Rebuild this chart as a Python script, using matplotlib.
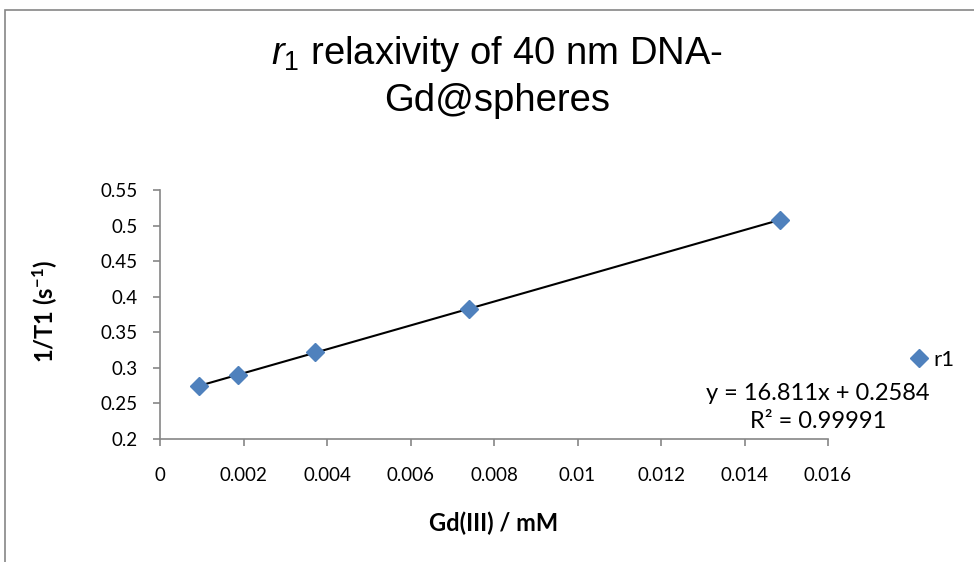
import numpy as np
import matplotlib
matplotlib.use("Agg")
import matplotlib.pyplot as plt
from matplotlib.patches import Rectangle

# data
gd_mM = [0.00093, 0.00186, 0.00372, 0.00741, 0.01485]
inv_t1 = [0.2745, 0.2895, 0.3225, 0.3830, 0.5080]
series_name = "r1"
eq_text = "y = 16.811x + 0.2584"
r2_text = "R² = 0.99991"
x_ticks = [0, 0.002, 0.004, 0.006, 0.008, 0.01, 0.012, 0.014, 0.016]
x_tick_labels = ["0", "0.002", "0.004", "0.006", "0.008", "0.01", "0.012", "0.014", "0.016"]
y_ticks = [0.2, 0.25, 0.3, 0.35, 0.4, 0.45, 0.5, 0.55]
y_tick_labels = ["0.2", "0.25", "0.3", "0.35", "0.4", "0.45", "0.5", "0.55"]

plt.rcParams['mathtext.fontset'] = 'custom'
plt.rcParams['mathtext.rm'] = 'Liberation Sans'
plt.rcParams['mathtext.it'] = 'Liberation Sans:italic'
plt.rcParams['mathtext.bf'] = 'Lato:bold'

W, H = 974, 562
fig = plt.figure(figsize=(W / 100, H / 100), dpi=100)
fig.patch.set_facecolor('white')

# chart frame (grey border, runs off right/bottom)
grey = '#868686'
fig.add_artist(Rectangle((5 / W, -0.1), 1.2, (H - 10) / H + 0.1, transform=fig.transFigure,
                         fill=False, edgecolor=grey, lw=1.2))

ax = fig.add_axes([160 / W, 1 - 439 / H, (828 - 160) / W, (439 - 190) / H])
ax.set_xlim(0, 0.016)
ax.set_ylim(0.2, 0.55)

for s in ['top', 'right']:
    ax.spines[s].set_visible(False)
for s in ['left', 'bottom']:
    ax.spines[s].set_color(grey)
    ax.spines[s].set_linewidth(1.2)

tick_font = dict(family='Lato', size=13.5)
ax.set_xticks(x_ticks)
ax.set_xticklabels(x_tick_labels, **tick_font)
ax.set_yticks(y_ticks)
ax.set_yticklabels(y_tick_labels, **tick_font)
ax.tick_params(direction='out', length=5, color=grey, width=1.2)
ax.tick_params(axis='x', pad=15)
ax.tick_params(axis='y', pad=11)

# linear trendline
slope, intercept = np.polyfit(gd_mM, inv_t1, 1)
xl = np.array([min(gd_mM), max(gd_mM)])
ax.plot(xl, slope * xl + intercept, color='black', lw=1.5, zorder=2)

ax.plot(gd_mM, inv_t1, linestyle='none', marker='D', markersize=9,
        color='#4F81BD', markeredgecolor='#4F81BD', label=series_name, zorder=3)

fig.text(494 / W, 1 - 523 / H, "Gd(III) / mM", ha='center', va='center',
         family='Lato', size=17, weight='bold')
fig.text(45 / W, 1 - 312 / H, "1/T1 (s$^{\\mathbf{-1}}$)", ha='center', va='center', rotation=90,
         family='Lato', size=17, weight='bold')

fig.text(497 / W, 1 - 54 / H, r"$\mathit{r}_1$ relaxivity of 40 nm DNA-", ha='center', va='center',
         family='Liberation Sans', size=27.5)
fig.text(497 / W, 1 - 101 / H, "Gd@spheres", ha='center', va='center',
         family='Liberation Sans', size=27.5)

fig.text(818 / W, 1 - 393 / H, eq_text, ha='center', va='center', family='Lato', size=17)
fig.text(818 / W, 1 - 422 / H, r2_text, ha='center', va='center', family='Lato', size=17)

ax.legend(loc='center left', bbox_to_anchor=(900 / W, 1 - 360 / H), bbox_transform=fig.transFigure,
          frameon=False, handlelength=0.7, handletextpad=0.3, borderpad=0,
          prop=dict(family='Lato', size=16))

fig.savefig('out.png', dpi=100)
